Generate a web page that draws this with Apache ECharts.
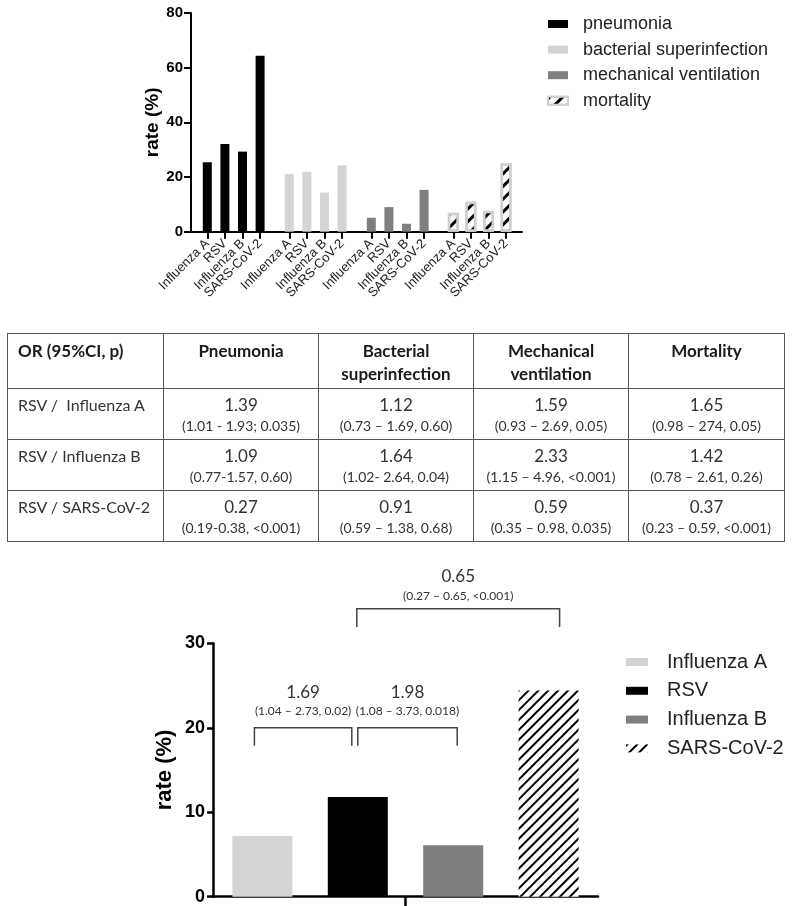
<!DOCTYPE html>
<html>
<head>
<meta charset="utf-8">
<script src="https://cdn.jsdelivr.net/npm/echarts@6/dist/echarts.min.js"></script>
<style>
  body { margin: 0; background: #fff; }
  #chart { position: absolute; left: 0; top: 0; width: 796px; height: 906px; }
  #orTable {
    position: absolute; left: 7px; top: 333px;
    border-collapse: collapse; font-family: Lato, "Open Sans", sans-serif; color: #333;
    table-layout: fixed;
  }
  #orTable td, #orTable th { border: 1.5px solid #555; vertical-align: top; padding: 0; }
  #orTable th { font-weight: bold; color: #1a1a1a; font-size: 17px; line-height: 23px; padding-top: 5px; height: 49px; }
  #orTable td { text-align: center; padding-top: 5px; height: 45px; }
  #orTable .rowname { text-align: left; padding-left: 10px; font-size: 16px; line-height: 22px; }
  #orTable th.first { text-align: left; padding-left: 10px; }
  .main { font-size: 17px; line-height: 22px; }
  .sub { font-size: 14px; line-height: 19px; }
</style>
</head>
<body>
<div id="chart"></div>
<table id="orTable"></table>
<script>
  // top panel
  const viruses = ['Influenza A', 'RSV', 'Influenza B', 'SARS-CoV-2'];
  const outcomes = ['pneumonia', 'bacterial superinfection', 'mechanical ventilation', 'mortality'];
  const pneumonia = [25.4, 32.1, 29.3, 64.4];
  const bacterial = [21.1, 21.9, 14.3, 24.3];
  const ventilation = [5.1, 9.0, 2.9, 15.3];
  const mortality = [6.9, 11.0, 7.7, 25.0];
  const topTicks = [0, 20, 40, 60, 80];

  // table
  const tableHeader = ['OR (95%CI, p)', 'Pneumonia', 'Bacterial<br>superinfection', 'Mechanical<br>ventilation', 'Mortality'];
  const tableRows = ['RSV /&nbsp; Influenza A', 'RSV / Influenza B', 'RSV / SARS-CoV-2'];
  const orValues = [
    ['1.39', '1.12', '1.59', '1.65'],
    ['1.09', '1.64', '2.33', '1.42'],
    ['0.27', '0.91', '0.59', '0.37']
  ];
  const orCI = [
    ['(1.01 - 1.93; 0.035)', '(0.73 – 1.69, 0.60)', '(0.93 – 2.69, 0.05)', '(0.98 – 274, 0.05)'],
    ['(0.77-1.57, 0.60)', '(1.02- 2.64, 0.04)', '(1.15 – 4.96, <0.001)', '(0.78 – 2.61, 0.26)'],
    ['(0.19-0.38, <0.001)', '(0.59 – 1.38, 0.68)', '(0.35 – 0.98, 0.035)', '(0.23 – 0.59, <0.001)']
  ];

  // bottom panel (mortality)
  const mortalityRate = [7.2, 11.8, 6.1, 24.4];
  const bottomTicks = [0, 10, 20, 30];
  // comparisons: [from bar, to bar, bracket level (%), OR, CI]
  const comparisons = [
    [0, 1, 20, '1.69', '(1.04 – 2.73, 0.02)'],
    [1, 2, 20, '1.98', '(1.08 – 3.73, 0.018)'],
    [1, 3, 34.1, '0.65', '(0.27 – 0.65, <0.001)']
  ];

  // ---- table ----
  const colW = [156, 155, 155, 155, 156];
  let html = '<colgroup>' + colW.map(w => '<col style="width:' + w + 'px">').join('') + '</colgroup>';
  html += '<tr>' + tableHeader.map((h, i) => '<th' + (i === 0 ? ' class="first"' : '') + '>' + h + '</th>').join('') + '</tr>';
  tableRows.forEach((r, ri) => {
    html += '<tr><td class="rowname">' + r + '</td>';
    orValues[ri].forEach((v, ci) => {
      html += '<td><div class="main">' + v + '</div><div class="sub">' + orCI[ri][ci].replace('<', '&lt;') + '</div></td>';
    });
    html += '</tr>';
  });
  document.getElementById('orTable').innerHTML = html;

  // ---- chart ----
  const axisFont = '"Liberation Sans", Arial, sans-serif';
  const noteFont = 'Lato, "Open Sans", sans-serif';
  const topData = [pneumonia, bacterial, ventilation, mortality];
  const topColors = ['#000000', '#d4d4d4', '#7f7f7f', '#ffffff'];
  const slot = 17.6, groupStep = 82, firstGroupLeft = 198.5;

  const hatchTop = { symbol: 'rect', symbolSize: 1, color: '#000', dashArrayX: [1, 0], dashArrayY: [2.5, 5.5], rotation: -Math.PI / 4 };
  const hatchBottom = { symbol: 'rect', symbolSize: 1, color: '#000', dashArrayX: [1, 0], dashArrayY: [2, 4.1], rotation: -Math.PI / 4 };

  const grids = [{ left: 191, top: 13, width: 331, height: 218.7 }];
  const xAxes = [{
    gridIndex: 0, type: 'category', data: [''],
    axisLine: { lineStyle: { color: '#000', width: 2 } },
    axisTick: { show: false }, axisLabel: { show: false }
  }];
  const yAxes = [{
    gridIndex: 0, type: 'value', min: topTicks[0], max: topTicks[topTicks.length - 1], interval: topTicks[1] - topTicks[0],
    name: 'rate (%)', nameLocation: 'middle', nameGap: 29,
    nameTextStyle: { fontFamily: axisFont, fontWeight: 'bold', fontSize: 19, color: '#000' },
    axisLine: { show: true, lineStyle: { color: '#000', width: 2 } },
    axisTick: { show: true, length: 7, lineStyle: { color: '#000', width: 2 } },
    axisLabel: { fontFamily: axisFont, fontWeight: 'bold', fontSize: 15, color: '#000', margin: 8 },
    splitLine: { show: false }
  }];
  const series = [];
  outcomes.forEach((name, g) => {
    grids.push({ left: firstGroupLeft + g * groupStep, top: 13, width: slot * 4, height: 218.7 });
    xAxes.push({
      gridIndex: g + 1, type: 'category', data: viruses,
      axisLine: { show: false },
      axisTick: { show: true, alignWithLabel: true, length: 7, lineStyle: { color: '#000', width: 2 } },
      axisLabel: { interval: 0, rotate: 45, margin: 10, fontFamily: axisFont, fontSize: 13, color: '#222' }
    });
    yAxes.push({ gridIndex: g + 1, type: 'value', min: 0, max: 80, show: false });
    const isHatch = g === 3;
    series.push({
      name: name, type: 'bar', xAxisIndex: g + 1, yAxisIndex: g + 1,
      data: topData[g], barWidth: isHatch ? 11 : 9,
      itemStyle: isHatch
        ? { color: '#fff', borderColor: '#d0d0d0', borderWidth: 2.5, decal: hatchTop }
        : { color: topColors[g] },
      emphasis: { disabled: true }
    });
  });

  // bottom grid
  const bIdx = grids.length;
  grids.push({ left: 213, top: 643.3, width: 385, height: 253.4 });
  xAxes.push({
    gridIndex: bIdx, type: 'category', data: [''],
    axisLine: { lineStyle: { color: '#000', width: 2.5 } },
    axisTick: { show: true, alignWithLabel: true, length: 12, lineStyle: { color: '#000', width: 2.5 } },
    axisLabel: { show: false }
  });
  yAxes.push({
    gridIndex: bIdx, type: 'value', min: bottomTicks[0], max: bottomTicks[bottomTicks.length - 1], interval: bottomTicks[1] - bottomTicks[0],
    name: 'rate (%)', nameLocation: 'middle', nameGap: 37,
    nameTextStyle: { fontFamily: axisFont, fontWeight: 'bold', fontSize: 22, color: '#000' },
    axisLine: { show: true, lineStyle: { color: '#000', width: 2.5 } },
    axisTick: { show: true, length: 6, lineStyle: { color: '#000', width: 2.5 } },
    axisLabel: { fontFamily: axisFont, fontWeight: 'bold', fontSize: 18, color: '#000', margin: 8 },
    splitLine: { show: false }
  });
  const bottomColors = ['#d4d4d4', '#000000', '#7f7f7f', '#ffffff'];
  viruses.forEach((v, i) => {
    series.push({
      name: v, type: 'bar', xAxisIndex: bIdx, yAxisIndex: bIdx,
      data: [mortalityRate[i]], barWidth: 60, barGap: '59%',
      itemStyle: i === 3 ? { color: '#fff', decal: hatchBottom } : { color: bottomColors[i] },
      emphasis: { disabled: true }
    });
  });

  const chart = echarts.init(document.getElementById('chart'), null, { renderer: 'canvas' });
  chart.setOption({
    animation: false,
    grid: grids, xAxis: xAxes, yAxis: yAxes, series: series,
    legend: [{
      data: outcomes, orient: 'vertical', left: 547, top: 15, padding: 0,
      itemWidth: 20, itemHeight: 8, itemGap: 7.6, selectedMode: false,
      icon: 'rect',
      textStyle: { fontFamily: axisFont, fontSize: 18, color: '#222', padding: [0, 0, 0, 10] }
    }, {
      data: viruses, orient: 'vertical', left: 626, top: 652, padding: 0,
      itemWidth: 22, itemHeight: 8, itemGap: 8.8, selectedMode: false,
      icon: 'rect',
      textStyle: { fontFamily: axisFont, fontSize: 20, color: '#222', padding: [0, 0, 0, 14] }
    }]
  });

  // comparison brackets above the mortality bars
  const barCenter = i => {
    const lay = chart.getModel().getSeriesByIndex(4 + i).getData().getItemLayout(0);
    return lay.x + lay.width / 2;
  };
  const yPix = v => chart.convertToPixel({ yAxisIndex: bIdx }, v);
  const graphics = [];
  comparisons.forEach((c, k) => {
    let x1 = barCenter(c[0]), x2 = barCenter(c[1]);
    if (k === 0) { x1 -= 8; x2 -= 6; }
    if (k === 1) { x2 += 4; }
    if (k === 2) { x1 -= 1; x2 += 11; }
    const yl = yPix(c[2]);
    const drop = k === 2 ? 18.4 : 18;
    graphics.push({
      type: 'polyline', silent: true,
      shape: { points: [[x1, yl + drop], [x1, yl], [x2, yl], [x2, yl + drop]] },
      style: { stroke: '#444', lineWidth: 1.5, fill: null }
    });
    const cx = (x1 + x2) / 2;
    graphics.push({
      type: 'text', silent: true, x: cx, y: yl - (k === 2 ? 32.5 : 35),
      style: { text: c[3], fontFamily: noteFont, fontSize: 17, fill: '#333', align: 'center', verticalAlign: 'middle' }
    });
    graphics.push({
      type: 'text', silent: true, x: cx, y: yl - (k === 2 ? 12.5 : 16.5),
      style: { text: c[4], fontFamily: noteFont, fontSize: 12, fill: '#333', align: 'center', verticalAlign: 'middle' }
    });
  });
  chart.setOption({ graphic: graphics });
</script>
</body>
</html>
